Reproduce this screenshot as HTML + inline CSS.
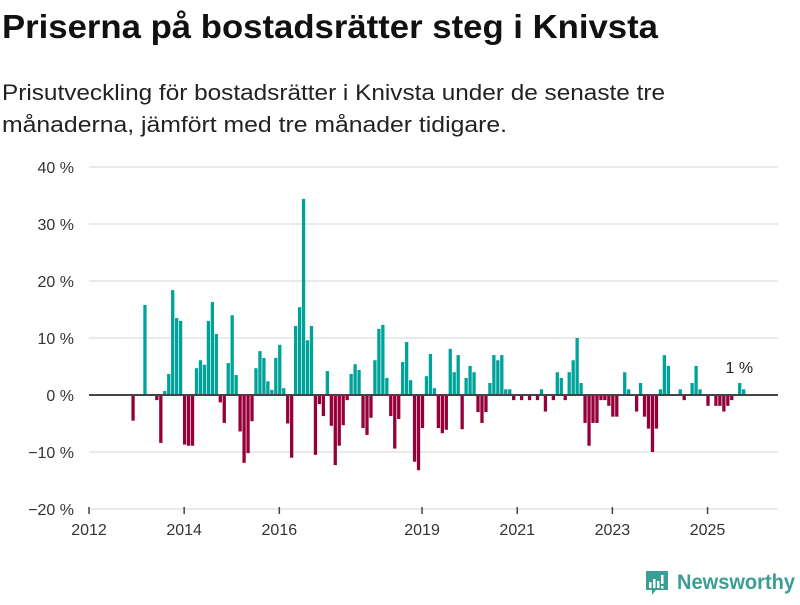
<!DOCTYPE html>
<html><head><meta charset="utf-8"><style>
body{margin:0;background:#fff;width:800px;height:600px;overflow:hidden;font-family:"Liberation Sans","DejaVu Sans",sans-serif;}
</style></head><body>
<svg id="chart" width="800" height="600" xmlns="http://www.w3.org/2000/svg" font-family="Liberation Sans, DejaVu Sans, sans-serif">
<text x="2" y="38" font-size="33" font-weight="bold" fill="#111" textLength="656" lengthAdjust="spacingAndGlyphs">Priserna på bostadsrätter steg i Knivsta</text>
<text x="2" y="100" font-size="22" fill="#222" textLength="663" lengthAdjust="spacingAndGlyphs">Prisutveckling för bostadsrätter i Knivsta under de senaste tre</text>
<text x="2" y="132" font-size="22" fill="#222" textLength="505" lengthAdjust="spacingAndGlyphs">månaderna, jämfört med tre månader tidigare.</text>
<g id="grid"></g>
<g id="bars"></g>
<g id="axes"></g>
<g>
<path d="M646 571 h22 v19 h-12 l-4 5 v-5 h-6 z" fill="#3a9e95"/>
<rect x="649" y="582" width="2.5" height="6" fill="#fff"/>
<rect x="653" y="579" width="2.5" height="9" fill="#fff"/>
<rect x="657" y="581" width="2.5" height="7" fill="#fff"/>
<rect x="661" y="575" width="2.5" height="9" fill="#fff"/>
<rect x="661" y="586" width="2.5" height="2.5" fill="#fff"/>
<text x="677" y="589" font-size="21" font-weight="bold" fill="#3a9e95" textLength="118" lengthAdjust="spacingAndGlyphs">Newsworthy</text>
</g>
</svg>
<script>
const startMonth = 11; // Dec 2012 (months since Jan 2012)
const values = [-4.5,0,0,15.8,0,0,-0.9,-8.4,0.7,3.7,18.4,13.5,13.0,-8.7,-8.9,-8.9,4.7,6.1,5.3,13.0,16.3,10.7,-1.3,-4.9,5.6,14.0,3.5,-6.4,-11.9,-10.2,
-4.6,4.7,7.7,6.5,2.4,0.9,6.5,8.8,1.2,-5.0,-11.0,12.1,15.4,34.4,9.6,12.1,-10.5,-1.6,-3.7,4.2,-5.4,-12.3,-8.9,-5.3,-0.9,3.7,5.4,4.4,-5.8,-7.0,
-4.0,6.1,11.6,12.3,3.0,-3.7,-9.4,-4.2,5.8,9.3,2.6,-11.7,-13.2,-5.8,3.3,7.2,1.2,-5.8,-6.7,-6.1,8.1,4.0,7.0,-6.0,3.0,5.1,4.0,-3.0,-4.9,-3.0,
2.1,7.0,6.1,7.0,1.0,1.0,-0.9,0,-0.9,0,-0.9,0,-0.9,1.0,-2.9,0,-0.9,4.0,3.0,-0.9,4.0,6.1,10.0,2.1,-4.9,-8.9,-4.9,-4.9,-0.9,-0.9,-1.9,-3.8,-3.8,
0,4.0,1.0,0,-2.9,2.1,-3.8,-5.9,-10.0,-5.9,1.0,7.0,5.1,0,0,1.0,-0.9,0,2.1,5.1,1.0,0,-1.9,0,-1.9,-1.9,-2.9,-1.9,-0.9,0,2.1,1.0];
const yTicks = [40,30,20,10,0,-10,-20];
const yTickLabels = ["40 %","30 %","20 %","10 %","0 %","\u221210 %","\u221220 %"];
const xTickYears = [2012,2014,2016,2019,2021,2023,2025];
const lastLabel = "1 %";

const NS = "http://www.w3.org/2000/svg";
const monthW = 3.965;
function xScale(m){ return 89 + m*monthW; }
function yScale(v){ return 395 - v*5.7; }
function mk(tag, attrs, parent){ const e=document.createElementNS(NS,tag); for(const k in attrs) e.setAttribute(k,attrs[k]); parent.appendChild(e); return e; }

const grid=document.getElementById('grid'), bars=document.getElementById('bars'), axes=document.getElementById('axes');
yTicks.forEach((t,i)=>{
  if(t!==0){
    const l=mk('line',{x1:89,x2:778,y1:yScale(t),y2:yScale(t),stroke:'#e3e3e3','stroke-width':1.5},grid);
    
    
  }
  const tx=mk('text',{x:74,y:yScale(t)+6,'font-size':16,fill:'#333','text-anchor':'end'},axes);
  tx.textContent=yTickLabels[i];
  
  
});
values.forEach((v,k)=>{
  if(v===0) return;
  const cx=xScale(startMonth+k+0.1);
  const y0=yScale(0), y1=yScale(v);
  const r=mk('rect',{x:cx-1.6,width:3.3,y:Math.min(y0,y1),height:Math.abs(y1-y0),fill:v>0?'#00a39a':'#96003a'},bars);
  
  
});
const base=mk('line',{x1:89,x2:778,y1:yScale(0),y2:yScale(0),stroke:'#444','stroke-width':2},axes);


xTickYears.forEach(yr=>{
  const x=xScale((yr-2012)*12);
  const tk=mk('line',{x1:x,x2:x,y1:507,y2:514,stroke:'#444','stroke-width':1.5},axes);
  
  
  const tx=mk('text',{x:x,y:535,'font-size':16,fill:'#333','text-anchor':'middle'},axes);
  tx.textContent=yr;
  
  
});
const lk=values.length-1;
const lbl=mk('text',{x:xScale(startMonth+lk-1),y:373,'font-size':16,fill:'#222','text-anchor':'middle'},axes);
lbl.textContent=lastLabel;


</script>
</body></html>
